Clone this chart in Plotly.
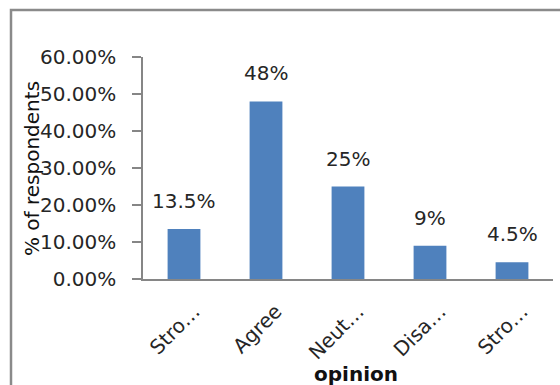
import plotly.graph_objects as go

categories = ["Stro…", "Agree", "Neut…", "Disa…", "Stro…"]
cat_ids = ["c1", "c2", "c3", "c4", "c5"]
values = [0.135, 0.48, 0.25, 0.09, 0.045]
value_labels = ["13.5%", "48%", "25%", "9%", "4.5%"]
y_ticks = [0, 0.1, 0.2, 0.3, 0.4, 0.5, 0.6]

FONT = "DejaVu Sans"
TXT = "#262626"

fig = go.Figure()
fig.add_trace(go.Bar(
    x=cat_ids, y=values, marker=dict(color="#4F81BD", line=dict(width=0)),
    width=0.4, showlegend=False, hoverinfo="skip",
))

for cid, v, lab in zip(cat_ids, values, value_labels):
    fig.add_annotation(x=cid, y=v, text=lab, showarrow=False, yanchor="bottom",
                       yshift=14, font=dict(family=FONT, size=20, color=TXT))

# axis titles placed as annotations (they overlap tick labels in the reference)
fig.add_annotation(xref="paper", yref="paper", x=(32 - 143) / 410, y=0.5,
                   xanchor="center", yanchor="middle",
                   text="% of respondents", textangle=-90, showarrow=False,
                   font=dict(family=FONT, size=20, color="#111"))
fig.add_annotation(xref="paper", yref="paper", x=(356 - 143) / 410, y=(279 - 374) / 222,
                   xanchor="center", yanchor="middle",
                   text="<b>opinion</b>", showarrow=False,
                   font=dict(family=FONT, size=20, color="#111"))

fig.update_layout(
    width=560, height=385,
    margin=dict(l=143, r=7, t=57, b=106),
    paper_bgcolor="white", plot_bgcolor="white",
    font=dict(family=FONT, size=20, color=TXT),
    xaxis=dict(
        tickmode="array", tickvals=cat_ids, ticktext=categories,
        tickangle=-45, showline=True, linecolor="#868686", linewidth=1.5,
        ticks="", showgrid=False, ticklabelstandoff=11, ticklabelshift=10,
        tickfont=dict(family=FONT, size=20, color=TXT),
    ),
    yaxis=dict(
        range=[0, 0.6], tickvals=y_ticks, tickformat=".2%",
        showline=True, linecolor="#868686", linewidth=1.5,
        ticks="outside", ticklen=9, tickcolor="#868686", tickwidth=1.5,
        showgrid=False, zeroline=False, ticklabelstandoff=12,
        tickfont=dict(family=FONT, size=20, color=TXT),
    ),
)

# outer chart border (extends past the picture edges)
fig.add_shape(type="rect", xref="paper", yref="paper",
              x0=(11 - 143) / 410, x1=1.2, y0=-0.7, y1=(279 - 10) / 222,
              line=dict(color="#8A8A8A", width=2.5), fillcolor="rgba(0,0,0,0)")

fig.write_html("out.html")
